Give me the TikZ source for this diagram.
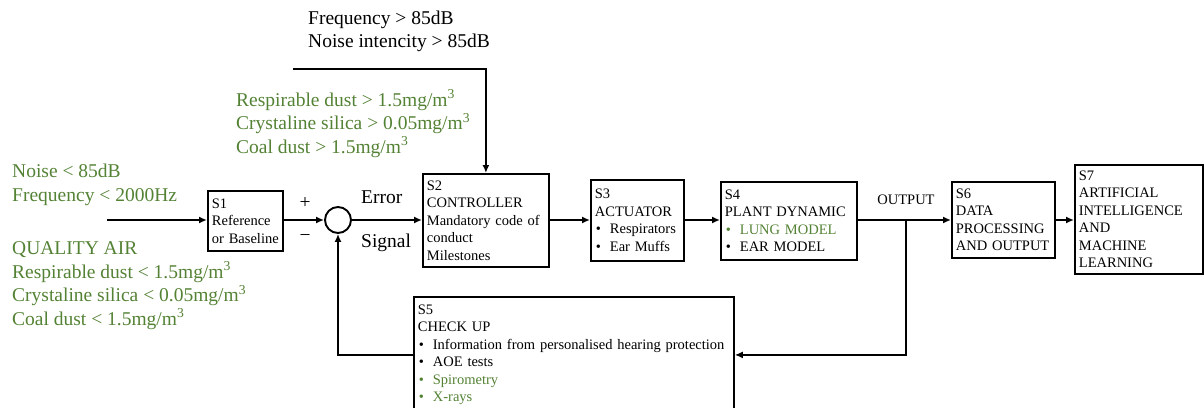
\documentclass[tikz,border=0pt]{standalone}
\usepackage{fontspec}
\setmainfont{Liberation Serif}
\usetikzlibrary{arrows.meta}
\definecolor{grn}{RGB}{84,130,53}
\newcommand\bul{\makebox[15pt][l]{\hspace{1pt}\textbullet}}
\begin{document}
\begin{tikzpicture}[x=1pt,y=-1pt,
  box/.style={draw, line width=1.8pt, align=left, inner xsep=4pt, inner ysep=0pt,
    font=\fontsize{14.5}{17.5}\selectfont, anchor=north west},
  conn/.style={line width=1.9pt},
  arr/.style={conn, -{Latex[length=8pt,width=7pt]}},
  big/.style={font=\fontsize{19.5}{23.5}\selectfont, align=left, inner sep=0pt},
  lbl/.style={font=\fontsize{14.5}{17.5}\selectfont, inner sep=0pt},
  summer/.style={draw, circle, line width=1.9pt, minimum size=26pt, inner sep=0pt}
]
\clip (0,0) rectangle (1204,407);
% texts
\node[big, anchor=west] (hi) at (308,31.5) {Frequency > 85dB\\Noise intencity > 85dB};
\node[big, text=grn, anchor=west] (dust) at (236,123.5) {Respirable dust > 1.5mg/m\textsuperscript{3}\\Crystaline silica > 0.05mg/m\textsuperscript{3}\\Coal dust > 1.5mg/m\textsuperscript{3}};
\node[big, text=grn, anchor=west] (lim) at (12,185) {Noise < 85dB\\Frequency < 2000Hz};
\node[big, text=grn, anchor=west] (air) at (12,285.5) {QUALITY AIR\\Respirable dust < 1.5mg/m\textsuperscript{3}\\Crystaline silica < 0.05mg/m\textsuperscript{3}\\Coal dust < 1.5mg/m\textsuperscript{3}};
\node[big] (plus) at (305,203) {+};
\node[big] (minus) at (305,238) {−};
\node[big, anchor=west] (err) at (361,197) {Error};
\node[big, anchor=west] (sig) at (361,243) {Signal};
\node[lbl] (out) at (906,200) {OUTPUT};
% boxes
\node[box, minimum width=75pt, minimum height=60pt, text width=67pt] (s1) at (207,190)
  {S1\\Reference\\or Baseline};
\node[summer] (sum) at (338,220) {};
\node[box, minimum width=126pt, minimum height=93pt, text width=118pt] (s2) at (422,173)
  {S2\\CONTROLLER\\Mandatory code of\\conduct\\Milestones};
\node[box, minimum width=93pt, minimum height=81pt, text width=85pt] (s3) at (590,179)
  {S3\\ACTUATOR\\\bul Respirators\\\bul Ear Muffs};
\node[box, minimum width=136pt, minimum height=78pt, text width=128pt] (s4) at (720,181)
  {S4\\PLANT DYNAMIC\\\textcolor{grn}{\bul LUNG MODEL}\\\bul EAR MODEL};
\node[box, minimum width=103pt, minimum height=76pt, text width=95pt] (s6) at (951,181)
  {S6\\DATA\\PROCESSING\\AND OUTPUT};
\node[box, minimum width=128pt, minimum height=109pt, text width=120pt] (s7) at (1074,164)
  {S7\\ARTIFICIAL\\INTELLIGENCE\\AND\\MACHINE\\LEARNING};
\node[box, minimum width=320pt, minimum height=116pt, text width=312pt] (s5) at (413,296)
  {S5\\CHECK UP\\\bul Information from personalised hearing protection\\\bul AOE tests\\\textcolor{grn}{\bul Spirometry}\\\textcolor{grn}{\bul X-rays}};
% connectors
\coordinate (in) at (107,220);
\coordinate (top) at (293,69);
\coordinate (br) at (906,220);
\draw[arr] (in) -- (in -| s1.west);
\draw[arr] (s1.east |- sum) -- (sum.west);
\draw[arr] (sum.east) -- (sum.east -| s2.west);
\draw[arr] (top) -| (s2.north);
\draw[arr] (s2.east |- sum) -- (s3.west |- sum);
\draw[arr] (s3.east |- sum) -- (s4.west |- sum);
\draw[arr] (s4.east |- sum) -- (s6.west |- sum);
\draw[arr] (s6.east |- sum) -- (s7.west |- sum);
\draw[arr] (br) |- (s5.east);
\draw[arr] (s5.west) -| (sum.south);
\end{tikzpicture}
\end{document}
